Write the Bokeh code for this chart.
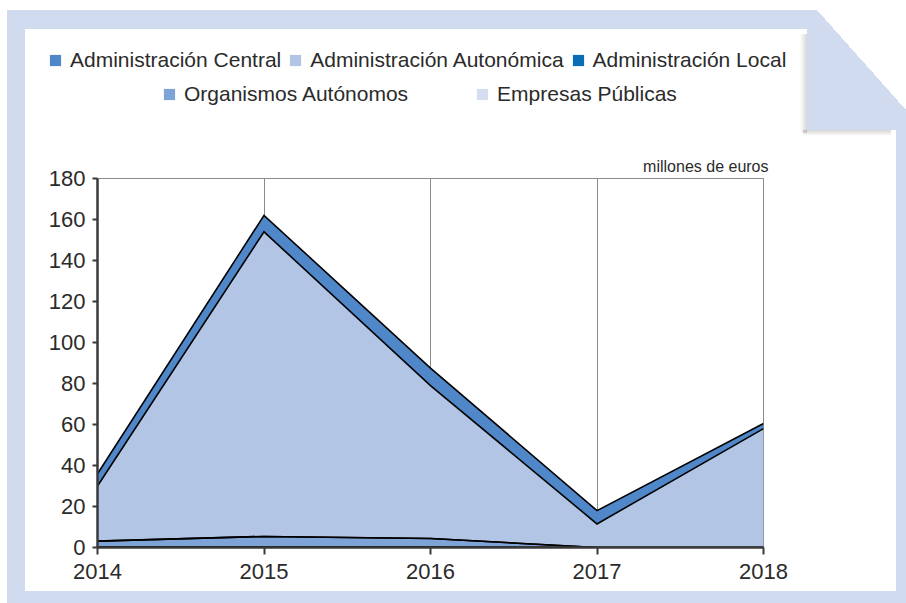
import numpy as np
from bokeh.plotting import figure
from bokeh.layouts import column
from bokeh.models import (ColumnDataSource, Legend, LegendItem, Label, Range1d)
from bokeh.embed import file_html
from bokeh.resources import INLINE

# ---------------- data ----------------
years = [2014, 2015, 2016, 2017, 2018]
year_labels = ["2014", "2015", "2016", "2017", "2018"]
administracion_local = [0.4, 0.4, 0.4, 0.0, 0.0]
organismos_autonomos = [2.7, 5.0, 4.0, 0.0, 0.0]
empresas_publicas = [0.0, 0.0, 0.0, 0.0, 0.0]
administracion_autonomica = [26.9, 148.6, 74.6, 11.5, 58.0]
administracion_central = [6.0, 8.0, 8.5, 6.5, 2.5]
y_ticks = [0, 20, 40, 60, 80, 100, 120, 140, 160, 180]
unit_label = "millones de euros"

# stack order (bottom -> top)
stack_keys = ["local", "organismos", "empresas", "autonomica", "central"]
stack_names = ["Administración Local", "Organismos Autónomos", "Empresas Públicas",
               "Administración Autonómica", "Administración Central"]
stack_colors = ["#0a6db5", "#7ea3d7", "#d5def1", "#b2c5e5", "#4f87c9"]

source = ColumnDataSource(dict(
    year=years,
    local=administracion_local,
    organismos=organismos_autonomos,
    empresas=empresas_publicas,
    autonomica=administracion_autonomica,
    central=administracion_central,
))

FONT = "Liberation Sans"
TXT = "#2b2b2b"
FRAME_BLUE = "#d0dbf0"
W, H = 906, 603
TOP_H = 178


def page_background():
    """Light-blue page frame with folded corner, as CSS background layers."""
    layers = [
        "linear-gradient(to right, rgba(0,0,0,0), rgba(0,0,0,0.16)) 800px 34px / 7px 99px no-repeat",
        "linear-gradient(to bottom, rgba(0,0,0,0.16), rgba(0,0,0,0)) 803px 130px / 88px 6px no-repeat",
        "linear-gradient(#ffffff, #ffffff) 25px 130px / 871px 461px no-repeat",
        "linear-gradient(#ffffff, #ffffff) 25px 29px / 782px 101px no-repeat",
        "linear-gradient(to bottom left, #ffffff 50%, rgba(255,255,255,0) 50%) 817px 10px / 89px 100px no-repeat",
        f"linear-gradient({FRAME_BLUE}, {FRAME_BLUE}) 7px 10px / 899px 593px no-repeat",
        "#ffffff",
    ]
    return ", ".join(layers)


# ---------------- main chart (full page) ----------------
p = figure(width=W, height=H, x_range=Range1d(2014, 2018), y_range=Range1d(0, 180),
           output_backend="svg", toolbar_location=None,
           min_border_left=97, min_border_right=W - 763,
           min_border_top=178, min_border_bottom=H - 547)
p.border_fill_alpha = 0
p.background_fill_alpha = 0
p.outline_line_color = "#8a8a8a"
p.outline_line_width = 1

areas = p.varea_stack(stackers=stack_keys, x="year", color=stack_colors, source=source)
p.vline_stack(stackers=stack_keys, x="year", source=source, line_color="black",
              line_width=1.6, line_join="miter")

for ax in (p.xaxis, p.yaxis):
    ax.axis_line_color = "#3a3a3a"
    ax.axis_line_width = 2.5
    ax.major_tick_line_color = "#3a3a3a"
    ax.major_tick_line_width = 2
    ax.major_tick_in = 0
    ax.minor_tick_line_color = None
    ax.major_label_text_font = FONT
    ax.major_label_text_font_size = "22px"
    ax.major_label_text_color = TXT
p.yaxis.ticker = y_ticks
p.yaxis.major_tick_out = 5
p.yaxis.major_label_standoff = 7
p.xaxis.ticker = years
p.xaxis.major_label_overrides = dict(zip(years, year_labels))
p.xaxis.major_tick_out = 7
p.xaxis.major_label_standoff = 9
p.xgrid.grid_line_color = "#8a8a8a"
p.xgrid.grid_line_width = 1
p.ygrid.grid_line_color = None

# ---------------- header overlay: legend + unit label ----------------
top = figure(width=W, height=TOP_H, x_range=Range1d(0, W), y_range=Range1d(TOP_H, 0),
             output_backend="svg", toolbar_location=None,
             x_axis_location=None, y_axis_location=None,
             min_border=0, min_border_left=0, min_border_right=0,
             min_border_top=0, min_border_bottom=0)
top.grid.visible = False
top.outline_line_color = None
top.border_fill_alpha = 0
top.background_fill_alpha = 0

legend_proxies = {}
for k, c in zip(stack_keys, stack_colors):
    legend_proxies[k] = top.varea(x=[0], y1=[0], y2=[0], fill_color=c)


def make_legend(keys, loc, spacing):
    items = [LegendItem(label=stack_names[stack_keys.index(k)], renderers=[legend_proxies[k]])
             for k in keys]
    return Legend(items=items, location=loc, orientation="horizontal", spacing=spacing,
                  glyph_width=14, glyph_height=14, label_standoff=8, label_height=20,
                  padding=0, margin=0, border_line_color=None, background_fill_alpha=0,
                  label_text_font=FONT, label_text_font_size="21px", label_text_color=TXT)


top.add_layout(make_legend(["central", "autonomica", "local"], (48, TOP_H - 72), 7))
top.add_layout(make_legend(["organismos", "empresas"], (162, TOP_H - 106), 67))
top.add_layout(Label(x=768, y=166, text=unit_label,
                     text_align="right", text_baseline="alphabetic", text_font=FONT,
                     text_font_size="16px", text_color=TXT))

body = column(p, spacing=0, styles={"background": page_background()})
header = column(top, spacing=0, styles={"position": "absolute", "top": "0px", "left": "0px"})

open("out.html", "w").write(file_html([body, header], INLINE))
